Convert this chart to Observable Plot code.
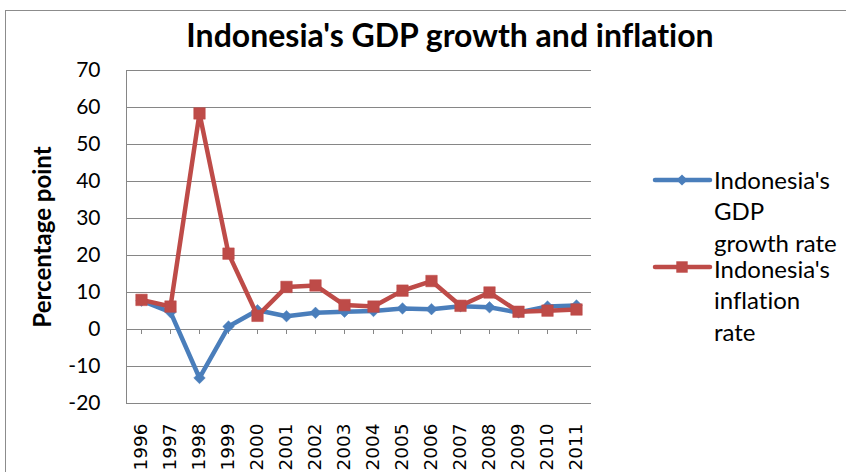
<!DOCTYPE html>
<html>
<head>
<meta charset="utf-8">
<script src="https://cdn.jsdelivr.net/npm/d3@7"></script>
<script src="https://cdn.jsdelivr.net/npm/@observablehq/plot@0.6"></script>
<style>
  html, body { margin: 0; padding: 0; background: #fff; }
  #chart { position: relative; width: 846px; height: 472px; overflow: hidden; font-family: Lato, sans-serif; font-variant-ligatures: none; }
  #border { position: absolute; left: 5px; top: 10px; width: 900px; height: 520px; border: 1.5px solid #8c8c8c; box-sizing: border-box; }
  #plot { position: absolute; left: 0; top: 0; }
  #legend { position: absolute; left: 0; top: 0; }
  svg text { font-variant-ligatures: none; }
</style>
</head>
<body>
<div id="chart">
  <div id="border"></div>
  <div id="plot"></div>
  <svg id="legend" width="846" height="472"></svg>
</div>
<script>
const years = ["1996","1997","1998","1999","2000","2001","2002","2003","2004","2005","2006","2007","2008","2009","2010","2011"];
const gdpGrowth = [7.8, 4.7, -13.1, 0.8, 5.2, 3.6, 4.5, 4.8, 5.0, 5.7, 5.5, 6.3, 6.0, 4.6, 6.2, 6.5];
const inflation = [8.0, 6.2, 58.4, 20.5, 3.7, 11.5, 11.9, 6.6, 6.2, 10.5, 13.1, 6.4, 10.0, 4.8, 5.1, 5.4];
const yTicks = [-20, -10, 0, 10, 20, 30, 40, 50, 60, 70];
const titleText = "Indonesia's GDP growth and inflation";
const yLabel = "Percentage point";
const legendLines = [["Indonesia's", "GDP", "growth rate"], ["Indonesia's", "inflation", "rate"]];

const blue = "#4A7EBB", red = "#BE4B48", grid = "#868686";

const gdpData = years.map((y, i) => ({year: y, value: gdpGrowth[i]}));
const infData = years.map((y, i) => ({year: y, value: inflation[i]}));

const chart = Plot.plot({
  width: 846,
  height: 472,
  marginLeft: 126,
  marginRight: 255,
  marginTop: 70,
  marginBottom: 69,
  style: {fontFamily: "Lato, sans-serif", fontSize: "21px", color: "#000", background: "transparent", overflow: "visible"},
  x: {type: "point", domain: years, padding: 0.5, axis: null},
  y: {domain: [-20, 70], axis: null},
  marks: [
    Plot.gridY(yTicks, {stroke: grid, strokeOpacity: 1, strokeWidth: 1}),
    Plot.frame({anchor: "left", stroke: grid, strokeWidth: 1}),
    Plot.axisY(yTicks, {tickSize: 0, tickPadding: 26, fontSize: 21, label: null, fill: "#000", tickFormat: d => String(d)}),
    Plot.ruleY([0], {stroke: grid, strokeWidth: 1}),
    Plot.ruleX(years, {x: d => d, y1: 0, y2: 0, insetBottom: -5, stroke: grid, strokeWidth: 1}),
    Plot.text(years, {x: d => d, text: d => d, frameAnchor: "bottom", dy: 20, rotate: -90, textAnchor: "end", lineAnchor: "middle", fontSize: 18.5, fontFamily: "DejaVu Sans", fill: "#000"}),
    Plot.text([yLabel], {text: d => d, frameAnchor: "left", dx: -83, rotate: -90, textAnchor: "middle", lineAnchor: "middle", fontSize: 24, fontWeight: "bold", fill: "#000"}),
    Plot.line(gdpData, {x: "year", y: "value", stroke: blue, strokeWidth: 4.5, strokeLinejoin: "round"}),
    Plot.dot(gdpData, {x: "year", y: "value", symbol: "diamond2", r: 5.2, fill: blue, stroke: blue, strokeWidth: 0.5}),
    Plot.line(infData, {x: "year", y: "value", stroke: red, strokeWidth: 4.5, strokeLinejoin: "round"}),
    Plot.dot(infData, {x: "year", y: "value", symbol: "square", r: 6.5, fill: red, stroke: red, strokeWidth: 0.5})
  ]
});
document.getElementById("plot").appendChild(chart);

// Title and legend
const lg = d3.select("#legend");
lg.append("text").attr("x", 450).attr("y", 47).attr("text-anchor", "middle")
  .style("font-family", "Lato, sans-serif").style("font-size", "32px").style("font-weight", "bold")
  .attr("fill", "#000").text(titleText);

const legendItems = [
  {color: blue, symbol: d3.symbolDiamond2, size: 80, y: 180, base: 189},
  {color: red, symbol: d3.symbolSquare, size: 130, y: 267, base: 278}
];
legendItems.forEach((it, k) => {
  lg.append("line").attr("x1", 655).attr("x2", 710).attr("y1", it.y).attr("y2", it.y)
    .attr("stroke", it.color).attr("stroke-width", 4.5).attr("stroke-linecap", "round");
  lg.append("path").attr("d", d3.symbol(it.symbol, it.size)()).attr("transform", `translate(682,${it.y})`).attr("fill", it.color);
  const t = lg.append("text").attr("x", 714).attr("y", it.base)
    .style("font-family", "Lato, sans-serif").style("font-size", "24px").attr("fill", "#000");
  legendLines[k].forEach((ln, j) => {
    t.append("tspan").attr("x", 714).attr("y", it.base + j * 31.3).text(ln);
  });
});
</script>
</body>
</html>
